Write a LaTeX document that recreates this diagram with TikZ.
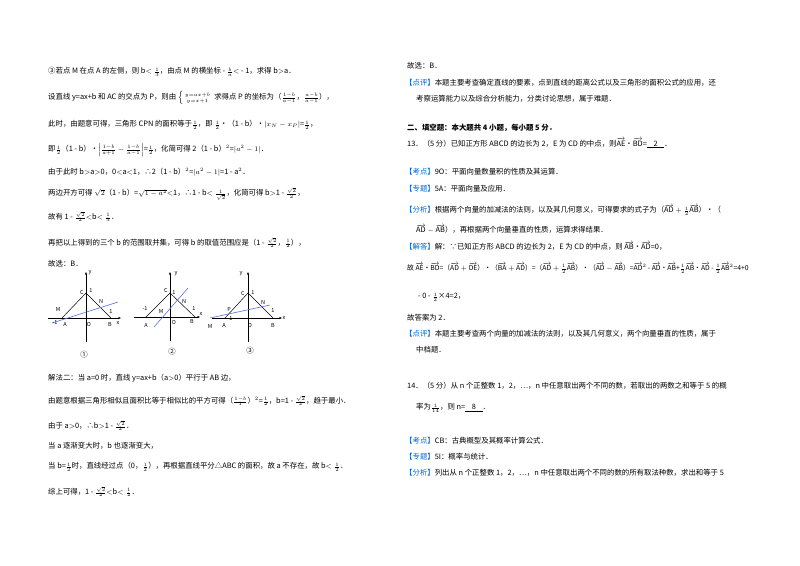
\documentclass[tikz,border=0pt]{standalone}
\usetikzlibrary{arrows.meta}
\usepackage{fontspec}
\setmainfont{Noto Sans CJK SC}
\usepackage{amsmath}
\definecolor{kblue}{RGB}{0,102,204}
\definecolor{lblue}{RGB}{90,110,220}
\newcommand{\kb}[1]{\textcolor{kblue}{【#1】}}
\newcommand{\vc}[1]{\overrightarrow{\mathrm{#1}}}
\newcommand{\fr}[2]{\frac{#1}{#2}}
\begin{document}
\begin{tikzpicture}[x=1pt,y=-1pt,font=\fontsize{7.4}{9}\selectfont,
  t/.style={anchor=west,inner sep=0pt},
  ax/.style={-{Stealth[length=3pt]},line width=0.4pt},
  tri/.style={line width=0.5pt},
  ln/.style={lblue,line width=0.6pt},
  lab/.style={font=\fontsize{5.5}{6}\selectfont\itshape,inner sep=1pt}]
\useasboundingbox (0,0) rectangle (800,565);
% left column
\node[t] (l1) at (48,72) {③若点 M 在点 A 的左侧，则 b$<\fr{1}{3}$，由点 M 的横坐标 - $\fr{b}{a}$$<$ - 1，求得 b$>$a．};
\node[t] (l2) at (48,98) {设直线 y=ax+b 和 AC 的交点为 P，则由 $\left\{\begin{smallmatrix}y=ax+b\\ y=x+1\end{smallmatrix}\right.$ 求得点 P 的坐标为（$\fr{1-b}{a-1}$，$\fr{a-b}{a-1}$），};
\node[t] (l3) at (48,125) {此时，由题意可得，三角形 CPN 的面积等于$\fr{1}{2}$，即 $\fr{1}{2}$•（1 - b）•$|x_N - x_P|$=$\fr{1}{2}$，};
\node[t] (l4) at (48,150) {即$\fr{1}{2}$（1 - b）•$\left|\fr{1-b}{a+1} - \fr{1-b}{a-1}\right|$=$\fr{1}{2}$，化简可得 2（1 - b）$^2$=$|a^2 - 1|$．};
\node[t] (l5) at (48,172) {由于此时 b$>$a$>$0，0$<$a$<$1，∴2（1 - b）$^2$=$|a^2 - 1|$=1 - a$^2$．};
\node[t] (l6) at (48,194) {两边开方可得 $\sqrt{2}$（1 - b）=$\sqrt{1-a^2}$$<$1，∴1 - b$<\fr{1}{\sqrt2}$，化简可得 b$>$1 - $\fr{\sqrt2}{2}$，};
\node[t] (l7) at (48,217) {故有 1 - $\fr{\sqrt2}{2}$$<$b$<\fr{1}{3}$．};
\node[t] (l8) at (48,243) {再把以上得到的三个 b 的范围取并集，可得 b 的取值范围应是（1 - $\fr{\sqrt2}{2}$，$\fr{1}{2}$），};
\node[t] (l9) at (48,264) {故选：B．};
% figure 1
\draw[ax] (48,318) -- (121,318); \draw[ax] (86,342) -- (86,272);
\draw[tri] (62,318) -- (86,293) -- (111,318);
\draw[ln] (52,323) -- (118,302);
\node[lab] (f1y) at (90,273) {y}; \node[lab] (f1c) at (82,292) {C}; \node[lab] (f1one) at (91,291) {1};
\node[lab] (f1n) at (101,301) {N}; \node[lab] (f1m) at (58,309) {M}; \node[lab] (f1b1) at (111,312) {1};
\node[lab] (f1m1) at (55,323) {-1}; \node[lab] (f1a) at (65,324) {A}; \node[lab] (f1o) at (89,324) {O};
\node[lab] (f1b) at (110,324) {B}; \node[lab] (f1x) at (118,323) {x};
\node (f1) at (84,355) {①};
% figure 2
\draw[ax] (134,317) -- (200,317); \draw[ax] (170,341) -- (170,272);
\draw[tri] (146,317) -- (170,293) -- (195,317);
\draw[ln] (154,327) -- (188,288);
\node[lab] (f2y) at (176,274) {y}; \node[lab] (f2c) at (166,290) {C}; \node[lab] (f2one) at (174,293) {1};
\node[lab] (f2n) at (184,301) {N}; \node[lab] (f2m) at (161,311) {M}; \node[lab] (f2m1) at (145,309) {-1};
\node[lab] (f2b1) at (194,309) {1}; \node[lab] (f2a) at (146,325) {A}; \node[lab] (f2o) at (174,322) {O};
\node[lab] (f2b) at (192,321) {B}; \node[lab] (f2x) at (201,314) {x};
\node (f2) at (172,352) {②};
% figure 3
\draw[ax] (212,318) -- (282,318); \draw[ax] (248,342) -- (248,272);
\draw[tri] (225,318) -- (248,293) -- (273,318);
\draw[ln] (210,318) -- (270,305);
\node[lab] (f3y) at (241,274) {y}; \node[lab] (f3c) at (243,293) {C}; \node[lab] (f3one) at (253,293) {1};
\node[lab] (f3n) at (263,302) {N}; \node[lab] (f3p) at (229,309) {P}; \node[lab] (f3m1) at (230,319) {-1};
\node[lab] (f3b1) at (273,311) {1}; \node[lab] (f3m) at (210,326) {M}; \node[lab] (f3a) at (224,325) {A};
\node[lab] (f3o) at (250,325) {O}; \node[lab] (f3b) at (273,325) {B}; \node[lab] (f3x) at (284,318) {x};
\node (f3) at (250,351) {③};
\node[t] (l10) at (48,378) {解法二：当 a=0 时，直线 y=ax+b（a$>$0）平行于 AB 边，};
\node[t] (l11) at (48,401) {由题意根据三角形相似且面积比等于相似比的平方可得（$\fr{1-b}{1}$）$^2$=$\fr{1}{2}$，b=1 - $\fr{\sqrt2}{2}$，趋于最小．};
\node[t] (l12) at (48,426) {由于 a$>$0，∴b$>$1 - $\fr{\sqrt2}{2}$．};
\node[t] (l13) at (48,446) {当 a 逐渐变大时，b 也逐渐变大，};
\node[t] (l14) at (48,467) {当 b=$\fr{1}{2}$时，直线经过点（0，$\fr{1}{2}$），再根据直线平分△ABC 的面积，故 a 不存在，故 b$<\fr{1}{2}$．};
\node[t] (l15) at (48,492) {综上可得，1 - $\fr{\sqrt2}{2}$$<$b$<\fr{1}{2}$．};
% right column
\node[t] (r1) at (407,66) {故选：B．};
\node[t] (r2) at (405,83) {\kb{点评}本题主要考查确定直线的要素，点到直线的距离公式以及三角形的面积公式的应用，还};
\node[t] (r3) at (416,99) {考察运算能力以及综合分析能力，分类讨论思想，属于难题．};
\node[t] (r4) at (407,128) {\textbf{二、填空题：本大题共 4 小题，每小题 5 分．}};
\node[t] (r5) at (407,143) {13．（5 分）已知正方形 ABCD 的边长为 2，E 为 CD 的中点，则$\vc{AE}$•$\vc{BD}$=\underline{\ \ \ \ 2\ \ \ \ }．};
\node[t] (r6) at (405,172) {\kb{考点}9O：平面向量数量积的性质及其运算．};
\node[t] (r7) at (405,189) {\kb{专题}5A：平面向量及应用．};
\node[t] (r8) at (405,210) {\kb{分析}根据两个向量的加减法的法则，以及其几何意义，可得要求的式子为（$\vc{AD}+\fr{1}{2}\vc{AB}$）•（};
\node[t] (r9) at (416,229) {$\vc{AD}-\vc{AB}$），再根据两个向量垂直的性质，运算求得结果．};
\node[t] (r10) at (405,246) {\kb{解答}解：∵已知正方形 ABCD 的边长为 2，E 为 CD 的中点，则 $\vc{AB}$•$\vc{AD}$=0，};
\node[t,font=\fontsize{6.8}{8}\selectfont] (r11) at (407,268) {故 $\vc{AE}$•$\vc{BD}$=（$\vc{AD}+\vc{DE}$）•（$\vc{BA}+\vc{AD}$）=（$\vc{AD}+\fr{1}{2}\vc{AB}$）•（$\vc{AD}-\vc{AB}$）=$\vc{AD}^2$ - $\vc{AD}$•$\vc{AB}$+$\fr{1}{2}\vc{AB}$•$\vc{AD}$ - $\fr{1}{2}\vc{AB}^2$=4+0};
\node[t] (r12) at (418,297) {- 0 - $\fr{1}{2}$×4=2，};
\node[t] (r13) at (407,318) {故答案为 2．};
\node[t] (r14) at (405,334) {\kb{点评}本题主要考查两个向量的加减法的法则，以及其几何意义，两个向量垂直的性质，属于};
\node[t] (r15) at (416,350) {中档题．};
\node[t] (r16) at (407,386) {14．（5 分）从 n 个正整数 1，2，…，n 中任意取出两个不同的数，若取出的两数之和等于 5 的概};
\node[t] (r17) at (416,408) {率为$\fr{1}{14}$，则 n=\underline{\ \ \ \ 8\ \ \ \ }．};
\node[t] (r18) at (405,441) {\kb{考点}CB：古典概型及其概率计算公式．};
\node[t] (r19) at (405,457) {\kb{专题}5I：概率与统计．};
\node[t] (r20) at (405,473) {\kb{分析}列出从 n 个正整数 1，2，…，n 中任意取出两个不同的数的所有取法种数，求出和等于 5};
\end{tikzpicture}
\end{document}
